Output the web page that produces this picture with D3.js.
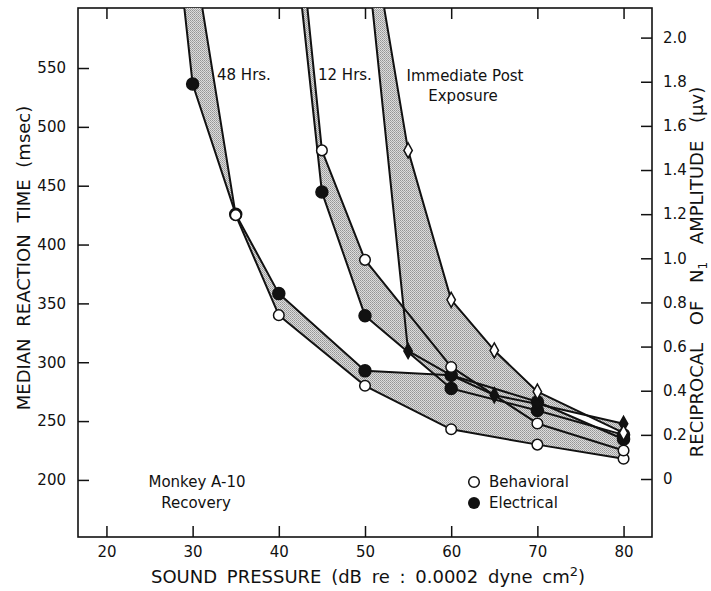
<!DOCTYPE html>
<html>
<head>
<meta charset="utf-8">
<title>Monkey A-10 Recovery</title>
<script src="https://cdn.jsdelivr.net/npm/d3@7"></script>
<style>
	html, body{
		margin:0;
		background:#fff;
	}
	svg text{
		font-family: "DejaVu Sans", sans-serif;
		fill:#111;
	}
	.axis path{ display:none; }
	.axis line{ stroke:#111; stroke-width:1.5px; }
	.axis text{ font-size:15px; }
</style>
</head>
<body>
<svg id="chart" width="711" height="591"></svg>
<script>
// 48 hrs after exposure
var db48 = [30, 35, 40, 50, 60, 70, 80];
var behav48 = [652, 425, 340, 280, 243, 230, 218];            // msec, left axis
var dbElec48 = [25, 30, 35, 40, 50, 60, 70, 80];
var elec48 = [3.58, 1.79, 1.20, 0.84, 0.49, 0.47, 0.35, 0.18]; // reciprocal of N1, right axis

// 12 hrs after exposure
var db12 = [40, 45, 50, 60, 70, 80];
var behav12 = [840, 480, 387, 296, 248, 225];
var elec12 = [3.11, 1.30, 0.74, 0.41, 0.31, 0.20];

// immediate post exposure
var dbImm = [50, 55, 60, 65, 70, 80];
var behavImm = [698, 480, 353, 310, 275, 240];
var elecImm = [2.46, 0.58, 0.47, 0.38, 0.34, 0.25];

var dbTicks = [20, 30, 40, 50, 60, 70, 80];
var msTicks = [200, 250, 300, 350, 400, 450, 500, 550];
var recipTicks = [0, 0.2, 0.4, 0.6, 0.8, 1.0, 1.2, 1.4, 1.6, 1.8, 2.0];

var pLeft = 78, pRight = 652, pTop = 8, pBottom = 537;

var svg = d3.select("#chart");

var x = d3.scaleLinear().domain([16.7, 83.3]).range([pLeft, pRight]);
var y = d3.scaleLinear().domain([151.5, 601]).range([pBottom, pTop]);
var yr = d3.scaleLinear().domain([0, 2.0]).range([479, 37.6]);

var defs = svg.append("defs");
defs.append("clipPath").attr("id", "plotclip")
	.append("rect").attr("x", pLeft).attr("y", pTop)
	.attr("width", pRight - pLeft).attr("height", pBottom - pTop);

// halftone-like stipple for the shaded bands
var pat = defs.append("pattern").attr("id", "stipple")
	.attr("patternUnits", "userSpaceOnUse").attr("width", 2).attr("height", 2);
pat.append("rect").attr("width", 2).attr("height", 2).attr("fill", "#dcdcdc");
pat.append("rect").attr("width", 1).attr("height", 1).attr("fill", "#959595");
pat.append("rect").attr("x", 1).attr("y", 1).attr("width", 1).attr("height", 1).attr("fill", "#a8a8a8");

// axes, ticks pointing inward
svg.append("g").attr("class", "axis").attr("transform", "translate(" + pLeft + ",0)")
	.call(d3.axisLeft(y).tickValues(msTicks).tickSize(-11).tickPadding(12));
svg.append("g").attr("class", "axis").attr("transform", "translate(" + pRight + ",0)")
	.call(d3.axisRight(yr).tickValues(recipTicks).tickSize(-11).tickPadding(11)
		.tickFormat(function(d){ return d === 0 ? "0" : d.toFixed(1); }));
svg.append("g").attr("class", "axis").attr("transform", "translate(0," + pBottom + ")")
	.call(d3.axisBottom(x).tickValues(dbTicks).tickSize(-11).tickPadding(9));
svg.append("g").attr("class", "axis").attr("transform", "translate(0," + pTop + ")")
	.call(d3.axisTop(x).tickValues(dbTicks).tickSize(-11).tickFormat(""));

svg.append("rect").attr("x", pLeft).attr("y", pTop)
	.attr("width", pRight - pLeft).attr("height", pBottom - pTop)
	.attr("fill", "none").attr("stroke", "#111").attr("stroke-width", 1.6);

var plot = svg.append("g").attr("clip-path", "url(#plotclip)");

function pts(xs, vs, scale){
	return xs.map(function(d, i){ return [x(d), scale(vs[i])]; });
}

var groups = [
	{ b: pts(db48, behav48, y), e: pts(dbElec48, elec48, yr), diamond: false },
	{ b: pts(db12, behav12, y), e: pts(db12, elec12, yr), diamond: false },
	{ b: pts(dbImm, behavImm, y), e: pts(dbImm, elecImm, yr), diamond: true }
];

var line = d3.line();

// shaded bands between behavioral and electrical curves
groups.forEach(function(g){
	plot.append("path")
		.attr("d", line(g.b.concat(g.e.slice().reverse())) + "Z")
		.attr("fill", "url(#stipple)").attr("stroke", "none");
});

groups.forEach(function(g){
	[g.b, g.e].forEach(function(p){
		plot.append("path").attr("d", line(p))
			.attr("fill", "none").attr("stroke", "#111")
			.attr("stroke-width", 2).attr("stroke-linejoin", "round");
	});
});

var diamondPath = "M0,-7.5L4.2,0L0,7.5L-4.2,0Z";

function markers(p, diamond, filled){
	if (diamond) {
		plot.append("g").selectAll("path").data(p).join("path")
			.attr("d", diamondPath)
			.attr("transform", function(d){ return "translate(" + d[0] + "," + d[1] + ")"; })
			.attr("fill", filled ? "#111" : "#fff").attr("stroke", "#111").attr("stroke-width", 1.5);
	} else {
		plot.append("g").selectAll("circle").data(p).join("circle")
			.attr("cx", function(d){ return d[0]; })
			.attr("cy", function(d){ return d[1]; })
			.attr("r", filled ? 6 : 5.3)
			.attr("fill", filled ? "#111" : "#fff").attr("stroke", "#111").attr("stroke-width", 1.5);
	}
}

groups.forEach(function(g){ markers(g.e, g.diamond, true); });
groups.forEach(function(g){ markers(g.b, g.diamond, false); });

// annotations
function label(txt, px, py, size, anchor){
	return svg.append("text").attr("x", px).attr("y", py)
		.attr("font-size", size).attr("text-anchor", anchor || "start")
		.attr("dominant-baseline", "middle").text(txt);
}
label("48 Hrs.", 217, 75, 15);
label("12 Hrs.", 318, 75, 15);
label("Immediate  Post", 465, 76, 15, "middle");
label("Exposure", 463, 96, 15, "middle");
label("Monkey  A-10", 197, 482, 15, "middle");
label("Recovery", 196, 503, 15, "middle");

// legend
svg.append("circle").attr("cx", 474).attr("cy", 482).attr("r", 5.3)
	.attr("fill", "#fff").attr("stroke", "#111").attr("stroke-width", 1.5);
svg.append("circle").attr("cx", 474).attr("cy", 503).attr("r", 6).attr("fill", "#111");
label("Behavioral", 489, 482, 15);
label("Electrical", 489, 503, 15);

// axis titles
var xt = svg.append("text").attr("x", 368).attr("y", 578).attr("font-size", 18)
	.attr("text-anchor", "middle").attr("dominant-baseline", "middle")
	.attr("word-spacing", 4);
xt.append("tspan").text("SOUND PRESSURE (dB re : 0.0002 dyne cm");
xt.append("tspan").attr("font-size", 13).attr("dy", -6).text("2");
xt.append("tspan").attr("dy", 6).text(")");

svg.append("text")
	.attr("transform", "translate(25,258) rotate(-90)")
	.attr("font-size", 18).attr("text-anchor", "middle").attr("dominant-baseline", "middle")
	.attr("word-spacing", 6)
	.text("MEDIAN REACTION TIME (msec)");

var rt = svg.append("text")
	.attr("transform", "translate(698,272) rotate(-90)")
	.attr("font-size", 18).attr("text-anchor", "middle").attr("dominant-baseline", "middle")
	.attr("word-spacing", 12);
rt.append("tspan").text("RECIPROCAL OF N");
rt.append("tspan").attr("font-size", 12).attr("dy", 5).text("1");
rt.append("tspan").attr("dy", -5).text(" AMPLITUDE (\u03BCv)");
</script>
</body>
</html>
